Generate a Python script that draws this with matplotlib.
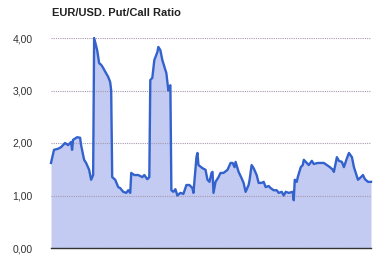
import matplotlib
matplotlib.use("Agg")
import matplotlib.pyplot as plt

# Day index (0..319) and put/call ratio, 10 per row
day = [0, 3, 7, 10, 14, 17, 20, 21, 22, 26,
       29, 30, 33, 35, 38, 40, 42, 43, 46, 48,
       50, 52, 54, 57, 59, 60, 61, 64, 67, 69,
       72, 75, 77, 79, 80, 83, 87, 91, 93, 96,
       98, 99, 101, 103, 106, 107, 109, 111, 115, 117,
       118, 119, 120, 122, 124, 126, 129, 132, 135, 138,
       141, 142, 145, 146, 147, 151, 154, 156, 158, 160,
       161, 162, 164, 167, 169, 172, 176, 179, 181, 183,
       184, 187, 190, 192, 194, 197, 198, 200, 202, 205,
       207, 210, 212, 214, 217, 219, 222, 225, 227, 230,
       232, 234, 237, 241, 242, 243, 245, 246, 249, 251,
       252, 255, 257, 260, 262, 266, 269, 272, 275, 278,
       281, 282, 285, 287, 290, 292, 295, 297, 300, 302,
       306, 309, 311, 313, 316, 319]
ratio = [1.62, 1.87, 1.89, 1.92, 2.00, 1.96, 2.02, 1.87, 2.06, 2.11,
         2.10, 1.96, 1.68, 1.62, 1.49, 1.30, 1.39, 4.00, 3.77, 3.52,
         3.49, 3.43, 3.36, 3.26, 3.16, 3.00, 1.35, 1.30, 1.16, 1.14,
         1.07, 1.05, 1.10, 1.05, 1.43, 1.39, 1.39, 1.35, 1.39, 1.31,
         1.35, 3.20, 3.24, 3.58, 3.73, 3.83, 3.77, 3.58, 3.33, 3.00,
         3.07, 3.10, 1.10, 1.07, 1.12, 1.00, 1.05, 1.03, 1.20, 1.20,
         1.14, 1.05, 1.73, 1.81, 1.58, 1.52, 1.49, 1.30, 1.26, 1.43,
         1.45, 1.05, 1.26, 1.35, 1.43, 1.43, 1.49, 1.62, 1.62, 1.54,
         1.64, 1.45, 1.33, 1.24, 1.07, 1.20, 1.30, 1.58, 1.52, 1.39,
         1.24, 1.24, 1.26, 1.16, 1.18, 1.14, 1.10, 1.10, 1.05, 1.07,
         1.00, 1.07, 1.05, 1.07, 0.91, 1.30, 1.26, 1.35, 1.54, 1.58,
         1.68, 1.62, 1.58, 1.66, 1.60, 1.62, 1.62, 1.62, 1.58, 1.54,
         1.49, 1.45, 1.73, 1.66, 1.64, 1.54, 1.71, 1.81, 1.73, 1.54,
         1.30, 1.35, 1.39, 1.31, 1.26, 1.26]

yticks = [0, 1, 2, 3, 4]
ytick_labels = ["0,00", "1,00", "2,00", "3,00", "4,00"]

fig = plt.figure(figsize=(3.8, 2.62), dpi=100)
ax = fig.add_axes([51 / 380, 1 - 248 / 262, 320 / 380, 210 / 262])

ax.fill_between(day, ratio, 0, color="#c3cbf2", lw=0, zorder=1)
ax.plot(day, ratio, color="#3362cc", lw=1.7, zorder=3, clip_on=False,
        solid_joinstyle="round")

ax.set_xlim(0, max(day))
ax.set_ylim(0, 4)
ax.set_yticks(yticks)
ax.set_yticklabels(ytick_labels, fontsize=7.5, color="#333333",
                   family="Liberation Sans")
ax.set_xticks([])
ax.tick_params(axis="y", length=0, pad=13)
ax.set_axisbelow(False)
ax.yaxis.grid(True, color="#a898b0", lw=0.8, ls=(0, (1, 1)))

for s in ("top", "right", "left"):
    ax.spines[s].set_visible(False)
ax.spines["bottom"].set_color("#333333")
ax.spines["bottom"].set_linewidth(1)
ax.spines["bottom"].set_zorder(4)

fig.text(52 / 380, 1 - 13 / 262, "EUR/USD. Put/Call Ratio", fontsize=8.0,
         fontweight="bold", color="#222222", family="Liberation Sans",
         va="center", ha="left")

fig.savefig("out.png", dpi=100)
